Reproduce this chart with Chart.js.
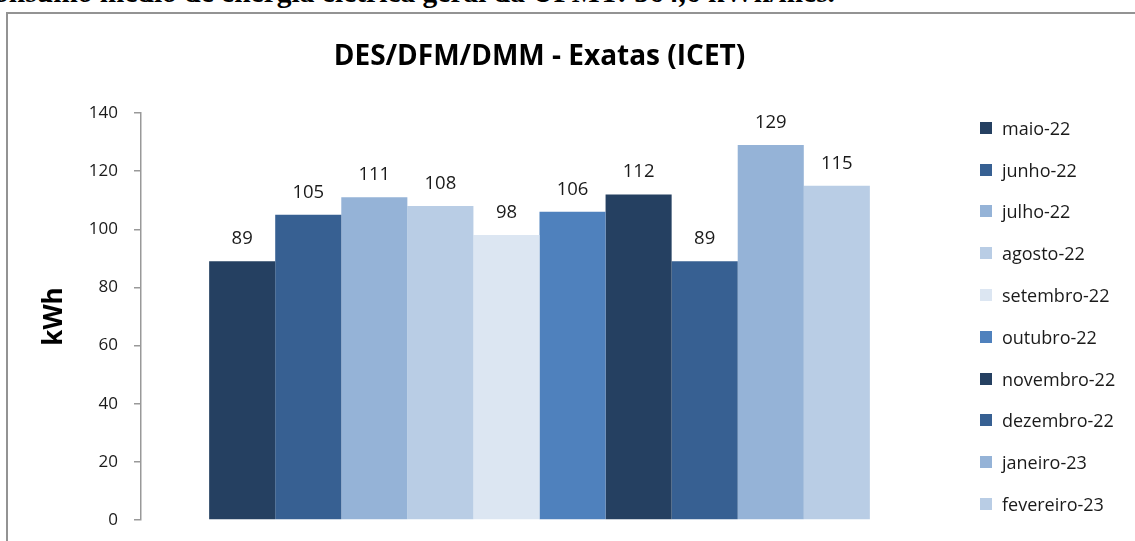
<!DOCTYPE html>
<html lang="pt-BR">
<head>
<meta charset="utf-8">
<title>DES/DFM/DMM - Exatas (ICET)</title>
<script src="https://cdn.jsdelivr.net/npm/chart.js@4.4.1/dist/chart.umd.min.js"></script>
<style>
  html, body { margin: 0; padding: 0; background: #fff; }
  body { width: 1135px; height: 541px; position: relative; overflow: hidden; }
  .cabecalho {
    position: absolute; right: 300px; top: -22px;
    font: bold 29.5px/1 "Liberation Serif", "Times New Roman", serif;
    color: #000; white-space: nowrap;
  }
  .moldura {
    position: absolute; left: 6px; top: 12px; width: 1200px; height: 600px;
    border: 2px solid #939393;
  }
  .grafico { position: absolute; left: 0; top: 0; width: 1135px; height: 541px; }
  #legenda { position: absolute; left: 980px; top: 107px; margin: 0; padding: 0; list-style: none; }
  #legenda li {
    display: flex; align-items: center; height: 41.8px;
    font: 18px "Open Sans", sans-serif; color: #1a1a1a; white-space: nowrap;
  }
  #legenda li span { display: inline-block; width: 12px; height: 12px; margin-right: 10px; }
</style>
</head>
<body>
<div class="cabecalho">Consumo médio de energia elétrica geral da UFMT: 564,6 kWh/mês.</div>
<div class="moldura"></div>
<div class="grafico"><canvas id="consumo"></canvas></div>
<ul id="legenda"></ul>
<script>
'use strict';

// meses (séries) e consumo em kWh
const meses = ['maio-22', 'junho-22', 'julho-22', 'agosto-22', 'setembro-22',
  'outubro-22', 'novembro-22', 'dezembro-22', 'janeiro-23', 'fevereiro-23'];
const consumo = [89, 105, 111, 108, 98, 106, 112, 89, 129, 115];
const cores = ['#254061', '#376092', '#95B3D7', '#B9CDE5', '#DCE6F2',
  '#4F81BD', '#254061', '#376092', '#95B3D7', '#B9CDE5'];
const eixoY = { min: 0, max: 140, passo: 20 };

// rótulos de valor acima das barras
const rotulosValor = {
  id: 'rotulosValor',
  afterDatasetsDraw(chart) {
    const ctx = chart.ctx;
    ctx.save();
    ctx.font = '18.5px "Open Sans", sans-serif';
    ctx.fillStyle = '#1a1a1a';
    ctx.textAlign = 'center';
    ctx.textBaseline = 'alphabetic';
    chart.data.datasets.forEach((ds, i) => {
      chart.getDatasetMeta(i).data.forEach((bar, j) => {
        ctx.fillText(String(ds.data[j]), bar.x, bar.y - 17);
      });
    });
    ctx.restore();
  }
};

// legenda em HTML
const legendaHtml = {
  id: 'legendaHtml',
  afterUpdate(chart) {
    const ul = document.getElementById('legenda');
    ul.innerHTML = '';
    chart.data.datasets.forEach(ds => {
      const li = document.createElement('li');
      const box = document.createElement('span');
      box.style.background = ds.backgroundColor;
      li.appendChild(box);
      li.appendChild(document.createTextNode(ds.label));
      ul.appendChild(li);
    });
  }
};

new Chart(document.getElementById('consumo'), {
  type: 'bar',
  data: {
    labels: [''],
    datasets: meses.map((m, i) => ({
      label: m,
      data: [consumo[i]],
      backgroundColor: cores[i],
      borderWidth: 0
    }))
  },
  options: {
    responsive: true,
    maintainAspectRatio: false,
    animation: false,
    layout: { padding: { left: 0, right: 197, top: 0, bottom: 21 } },
    datasets: { bar: { barPercentage: 1, categoryPercentage: 0.829 } },
    plugins: {
      legend: { display: false },
      tooltip: { enabled: false },
      title: {
        display: true,
        fullSize: false,
        text: 'DES/DFM/DMM - Exatas (ICET)',
        color: '#000',
        font: { family: '"Open Sans", sans-serif', size: 28, weight: 'bold', lineHeight: 1.2 },
        padding: { top: 40, bottom: 39.4 }
      }
    },
    scales: {
      x: { display: false },
      y: {
        min: eixoY.min,
        max: eixoY.max,
        afterFit(scale) {
          scale.width = 141;
          scale.paddingTop = 0;
          scale.paddingBottom = 0;
        },
        ticks: {
          stepSize: eixoY.passo,
          padding: 16,
          color: '#1a1a1a',
          font: { family: '"Open Sans", sans-serif', size: 17 }
        },
        grid: { drawOnChartArea: false, drawTicks: true, tickLength: 7, color: '#999', lineWidth: 1.5 },
        border: { display: true, color: '#999', width: 1.5 },
        title: {
          display: true,
          text: 'kWh',
          color: '#000',
          font: { family: '"Open Sans", sans-serif', size: 26, weight: 'bold', lineHeight: 1.2 },
          padding: { top: 39, bottom: 0 }
        }
      }
    }
  },
  plugins: [rotulosValor, legendaHtml]
});
</script>
</body>
</html>
